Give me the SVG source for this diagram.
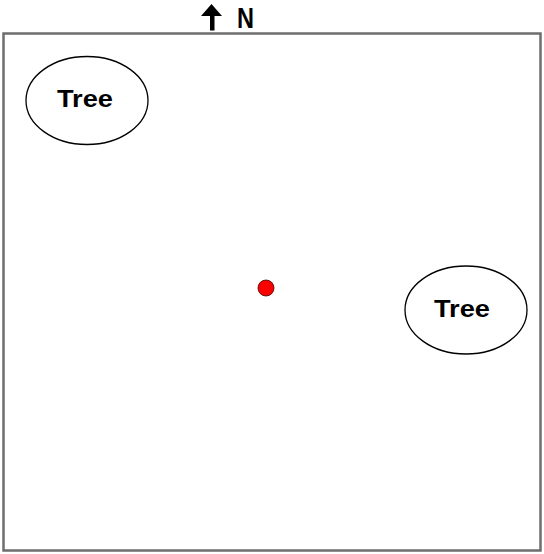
<svg xmlns="http://www.w3.org/2000/svg" width="544" height="554" viewBox="0 0 544 554">
<style>
.lbl{font-family:"Liberation Sans",Arial,sans-serif;font-weight:bold;fill:#000;text-anchor:middle}
.tree{fill:#fff;stroke:#000;stroke-width:1.3}
</style>
<rect width="544" height="554" fill="#fff"/>
<rect x="3.5" y="33.5" width="537" height="517" fill="#fff" stroke="#6e6e6e" stroke-width="2.5"/>
<g id="north">
<path d="M211.5 4 L201 16 L210 16 L210 30.5 L214.5 30.5 L214.5 16 L222 16 Z" fill="#000"/>
<text class="lbl" x="245.5" y="27.5" font-size="29" textLength="17" lengthAdjust="spacingAndGlyphs">N</text>
</g>
<g id="tree1">
<ellipse class="tree" cx="87" cy="100.5" rx="61" ry="44"/>
<text class="lbl" x="85" y="107" font-size="23" textLength="56" lengthAdjust="spacingAndGlyphs">Tree</text>
</g>
<g id="tree2">
<ellipse class="tree" cx="466" cy="310" rx="61" ry="44"/>
<text class="lbl" x="462" y="317" font-size="23" textLength="56" lengthAdjust="spacingAndGlyphs">Tree</text>
</g>
<g id="point">
<circle cx="266" cy="288" r="8" fill="#ff0000" stroke="#400" stroke-width="0.8"/>
</g>
</svg>
